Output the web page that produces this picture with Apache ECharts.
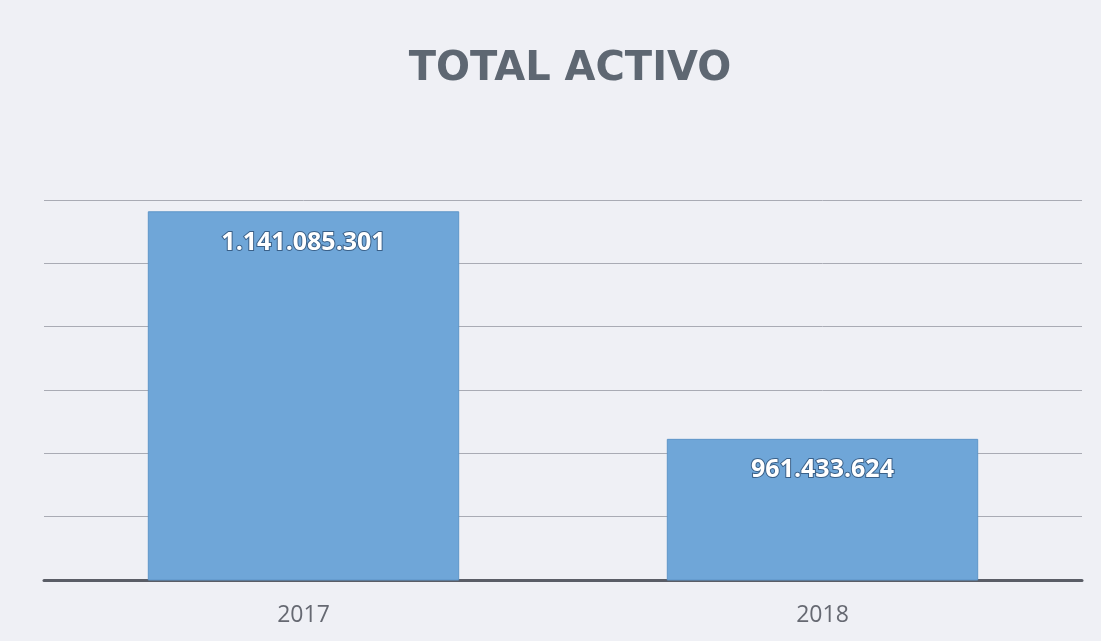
<!DOCTYPE html>
<html>
<head>
<meta charset="utf-8">
<script src="https://cdn.jsdelivr.net/npm/echarts@6/dist/echarts.min.js"></script>
<style>
  html, body { margin: 0; padding: 0; background: #f7f7fa; }
  #chart { width: 1101px; height: 641px; }
</style>
</head>
<body>
<div id="chart"></div>
<script>
const years = ["2017", "2018"];
const totals = [1141085301, 961433624];

// formato con puntos de miles
function fmtMiles(v) {
  return String(v).replace(/\B(?=(\d{3})+(?!\d))/g, ".");
}

const chart = echarts.init(document.getElementById("chart"), null, { renderer: "canvas" });
chart.setOption({
  animation: false,
  backgroundColor: "#eff0f5",
  title: {
    text: "TOTAL ACTIVO",
    left: "center",
    top: 45,
    left: 565,
    textAlign: "center",
    textStyle: {
      fontFamily: "DejaVu Sans",
      fontWeight: "bold",
      fontSize: 40,
      color: "#5e6772",
    },
  },
  grid: { left: 44, right: 19, top: 200, bottom: 61 },
  xAxis: {
    type: "category",
    data: years,
    axisLine: { lineStyle: { color: "#5a5d66", width: 3 } },
    axisTick: { show: false },
    axisLabel: {
      margin: 24,
      fontFamily: "Open Sans",
      fontSize: 23,
      color: "#666972",
    },
  },
  yAxis: {
    type: "value",
    min: 850000000,
    max: 1150000000,
    interval: 50000000,
    axisLine: { show: false },
    axisTick: { show: false },
    axisLabel: { show: false },
    splitLine: { lineStyle: { color: "#a9abb4", width: 1 } },
  },
  series: [
    {
      type: "bar",
      data: totals,
      barWidth: "60%",
      itemStyle: { color: "#6fa6d8", borderColor: "#5e95c8", borderWidth: 1 },
      label: {
        show: true,
        position: "insideTop",
        distance: 19,
        formatter: (p) => fmtMiles(p.value),
        fontFamily: "Open Sans",
        fontWeight: "bold",
        fontSize: 25,
        color: "#ffffff",
        textBorderColor: "#3a6088",
        textBorderWidth: 2,
      },
    },
  ],
});
</script>
</body>
</html>
